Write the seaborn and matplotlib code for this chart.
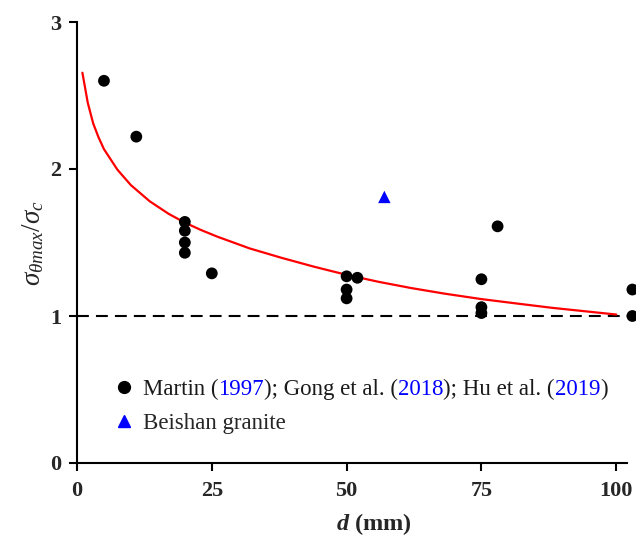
import numpy as np
import pandas as pd
import seaborn as sns
import matplotlib
matplotlib.use("Agg")
import matplotlib.pyplot as plt
from matplotlib.lines import Line2D

# ---------------- data ----------------
martin_d = [5, 11, 20, 20, 20, 20, 25, 50, 50, 50, 52, 75, 75, 75, 78, 103, 103]
martin_ratio = [2.60, 2.22, 1.64, 1.58, 1.50, 1.43, 1.29, 1.27, 1.18, 1.12, 1.26,
                1.25, 1.06, 1.02, 1.61, 1.18, 1.00]
beishan_d = [57]
beishan_ratio = [1.81]
fit_d = [1, 2, 3, 4, 5, 7.5, 10, 13.5, 17, 20, 23, 26, 32, 38, 44, 50, 56, 62,
         68, 75, 82, 88, 94, 100]
fit_ratio = [2.655, 2.45, 2.31, 2.215, 2.135, 1.995, 1.89, 1.78, 1.695, 1.635, 1.585,
             1.54, 1.46, 1.395, 1.335, 1.28, 1.232, 1.19, 1.153, 1.115, 1.083, 1.056,
             1.033, 1.01]
xticks = [0, 25, 50, 75, 100]
yticks = [0, 1, 2, 3]
legend_parts = [("Martin (", "k"), ("1997", "#0000ff"), ("); Gong et al. (", "k"),
                ("2018", "#0000ff"), ("); Hu et al. (", "k"), ("2019", "#0000ff"), (")", "k")]

# ---------------- style ----------------
sns.set_theme(style="ticks")
plt.rcParams["font.family"] = ["Liberation Serif", "DejaVu Serif"]
plt.rcParams["mathtext.fontset"] = "custom"
plt.rcParams["mathtext.rm"] = "Liberation Serif"
plt.rcParams["mathtext.it"] = "Liberation Serif:italic"
plt.rcParams["mathtext.bf"] = "Liberation Serif:bold"
plt.rcParams["mathtext.bfit"] = "Liberation Serif:italic:bold"

fig = plt.figure(figsize=(6.36, 5.39), dpi=100)
ax = fig.add_axes([77 / 636, 1 - 463 / 539, 550 / 636, 441 / 539])

df_m = pd.DataFrame({"d": martin_d, "r": martin_ratio})
df_b = pd.DataFrame({"d": beishan_d, "r": beishan_ratio})
df_f = pd.DataFrame({"d": fit_d, "r": fit_ratio})

ax.axhline(1.0, color="black", lw=1.5, ls=(0, (5.7, 3.4)), zorder=1)
sns.lineplot(data=df_f, x="d", y="r", ax=ax, color="#ff0000", lw=1.6, zorder=2,
             sort=True, estimator=None)
sns.scatterplot(data=df_m, x="d", y="r", ax=ax, color="black", marker="o", s=72,
                edgecolor="none", zorder=3, clip_on=False)
sns.scatterplot(data=df_b, x="d", y="r", ax=ax, color="#0000ff", marker="^", s=80,
                edgecolor="none", zorder=3, clip_on=False)

ax.set_xlim(0, 102)
ax.set_ylim(0, 3)
ax.set_xticks(xticks)
ax.set_yticks(yticks)
ax.set_xticklabels([str(v) for v in xticks], fontsize=16, fontweight="bold")
ax.set_yticklabels([str(v) for v in yticks], fontsize=16, fontweight="bold")
ax.tick_params(direction="out", length=6, width=1.5, color="black")
ax.tick_params(axis="x", pad=7)
ax.tick_params(axis="y", pad=5)
for s in ["top", "right"]:
    ax.spines[s].set_visible(False)
for s in ["left", "bottom"]:
    ax.spines[s].set_linewidth(1.5)
    ax.spines[s].set_color("black")

ax.set_xlabel(r"$\mathbfit{d}$ (mm)", fontsize=17.5, fontweight="bold")
ax.xaxis.set_label_coords(0.54, -0.108)
ax.set_ylabel(r"$\sigma_{\theta max}/\sigma_c$", fontsize=19.5, labelpad=3)

# legend
handles = [Line2D([], [], ls="none", marker="o", color="black", markersize=8.5),
           Line2D([], [], ls="none", marker="^", color="#0000ff", markersize=8.5)]
full_label = "".join(p for p, _ in legend_parts)
leg = ax.legend(handles, [full_label, "Beishan granite"], loc="lower left",
                bbox_to_anchor=(0.057, 0.045), frameon=False, fontsize=16.5,
                handlelength=0.6, handletextpad=0.5, labelspacing=0.55,
                borderaxespad=0)

fig.canvas.draw()
renderer = fig.canvas.get_renderer()
t0 = leg.get_texts()[0]
fp = t0.get_fontproperties()
bb = t0.get_window_extent(renderer)
_, _, desc_full = renderer.get_text_width_height_descent(full_label, fp, ismath=False)
baseline = bb.y0 + desc_full
t0.set_text("")
prefix = ""
for part, col in legend_parts:
    w = renderer.get_text_width_height_descent(prefix, fp, ismath=False)[0] if prefix else 0.0
    fig.text((bb.x0 + w) / fig.bbox.width, baseline / fig.bbox.height, part,
             color=col, fontproperties=fp, ha="left", va="baseline")
    prefix += part

fig.savefig("out.png", dpi=100)
